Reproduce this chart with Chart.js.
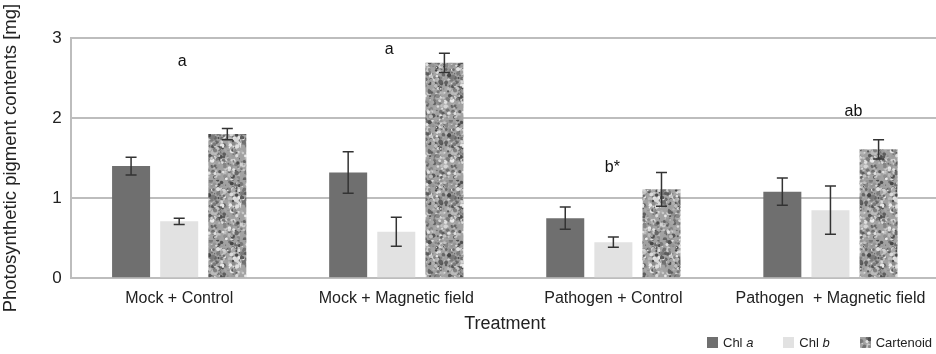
<!DOCTYPE html>
<html>
<head>
<meta charset="utf-8">
<script src="https://cdn.jsdelivr.net/npm/chart.js@4/dist/chart.umd.min.js"></script>
<style>
  body { margin: 0; background: #fff; overflow: hidden; }
  #wrap { position: relative; width: 940px; height: 354px; }
  #legend { position: absolute; top: 335px; left: 707px; font: 13px "Liberation Sans", Arial, sans-serif; color: #222; white-space: nowrap; }
  #legend span.item { display: inline-block; margin-right: 30px; }
  #legend span.box { display: inline-block; width: 11px; height: 11px; margin-right: 5px; vertical-align: -1px; }
</style>
</head>
<body>
<div id="wrap">
  <canvas id="chart" width="940" height="354"></canvas>
  <div id="legend"></div>
</div>
<script>
const treatments = ["Mock + Control", "Mock + Magnetic field", "Pathogen + Control", "Pathogen  + Magnetic field"];
const chlA = [1.40, 1.32, 0.75, 1.08];
const chlAErr = [0.11, 0.26, 0.14, 0.17];
const chlB = [0.71, 0.58, 0.45, 0.85];
const chlBErr = [0.04, 0.18, 0.065, 0.30];
const carot = [1.80, 2.69, 1.11, 1.61];
const carotErr = [0.07, 0.12, 0.21, 0.12];
const letters = ["a", "a", "b*", "ab"];
const letterY = [2.71, 2.85, 1.38, 2.08];
const yTicks = [0, 1, 2, 3];

const FONT = "'Liberation Sans', Arial, sans-serif";

// mottled texture for the carotenoid bars
function rand(seed) {
    return function () {
        seed |= 0; seed = seed + 0x6D2B79F5 | 0;
        let t = Math.imul(seed ^ seed >>> 15, 1 | seed);
        t = t + Math.imul(t ^ t >>> 7, 61 | t) ^ t;
        return ((t ^ t >>> 14) >>> 0) / 4294967296;
    };
}
function makeTexture() {
    const r = rand(11);
    const raw = document.createElement("canvas");
    raw.width = 60; raw.height = 60;
    const c = raw.getContext("2d");
    c.fillStyle = "#a2a2a2";
    c.fillRect(0, 0, 60, 60);
    for (let i = 0; i < 600; i++) {
        const g = Math.floor(70 + r() * 165);
        c.fillStyle = "rgb(" + g + "," + g + "," + g + ")";
        c.beginPath();
        c.arc(r() * 60, r() * 60, 0.6 + r() * 1.7, 0, Math.PI * 2);
        c.fill();
    }
    const out = document.createElement("canvas");
    out.width = 60; out.height = 60;
    const o = out.getContext("2d");
    o.filter = "blur(0.6px)";
    o.drawImage(raw, 0, 0);
    return out;
}
const texture = makeTexture();
const ctx = document.getElementById("chart").getContext("2d");
const carotFill = ctx.createPattern(texture, "repeat");

const errors = [chlAErr, chlBErr, carotErr];

const errorBars = {
    id: "errorBars",
    afterDatasetsDraw(chart) {
        const c = chart.ctx;
        const y = chart.scales.y;
        c.save();
        c.strokeStyle = "#333";
        c.lineWidth = 1.5;
        chart.data.datasets.forEach((ds, d) => {
            chart.getDatasetMeta(d).data.forEach((bar, i) => {
                const top = y.getPixelForValue(ds.data[i] + errors[d][i]);
                const bot = y.getPixelForValue(ds.data[i] - errors[d][i]);
                c.beginPath();
                c.moveTo(bar.x, top); c.lineTo(bar.x, bot);
                c.moveTo(bar.x - 5.5, top); c.lineTo(bar.x + 5.5, top);
                c.moveTo(bar.x - 5.5, bot); c.lineTo(bar.x + 5.5, bot);
                c.stroke();
            });
        });
        c.restore();
    }
};

const letterOffsets = [3, -7, -1, 23];
const sigLetters = {
    id: "sigLetters",
    afterDatasetsDraw(chart) {
        const c = chart.ctx;
        const x = chart.scales.x, y = chart.scales.y;
        c.save();
        c.fillStyle = "#111";
        c.font = "16px " + FONT;
        c.textAlign = "center";
        c.textBaseline = "middle";
        letters.forEach((t, i) => {
            c.fillText(t, x.getPixelForValue(i) + letterOffsets[i], y.getPixelForValue(letterY[i]));
        });
        c.restore();
    }
};

const chart = new Chart(ctx, {
    type: "bar",
    data: {
        labels: treatments,
        datasets: [
            { label: "Chl a", data: chlA, backgroundColor: "#6f6f6f" },
            { label: "Chl b", data: chlB, backgroundColor: "#e2e2e2" },
            { label: "Cartenoid", data: carot, backgroundColor: carotFill }
        ]
    },
    options: {
        responsive: false,
        animation: false,
        layout: { padding: { top: 38, right: 1, bottom: 19, left: 0 } },
        datasets: { bar: { categoryPercentage: 0.665, barPercentage: 0.79 } },
        plugins: { legend: { display: false }, tooltip: { enabled: false } },
        scales: {
            x: {
                grid: { display: false, drawTicks: false },
                border: { color: "#bdbdbd", width: 2 },
                ticks: { color: "#222", font: { family: FONT, size: 16 }, padding: 11, maxRotation: 0, autoSkip: false },
                title: { display: true, text: "Treatment", color: "#222", font: { family: FONT, size: 18 }, padding: { top: -6, bottom: 0 } }
            },
            y: {
                min: 0, max: 3,
                afterBuildTicks(axis) { axis.ticks = yTicks.map(v => ({ value: v })); },
                grid: { color: "#bdbdbd", lineWidth: 2, drawTicks: false },
                border: { color: "#bdbdbd", width: 2 },
                ticks: { color: "#222", font: { family: FONT, size: 17 }, padding: 9 },
                title: { display: true, text: "Photosynthetic pigment contents [mg]", color: "#222", font: { family: FONT, size: 18.5 }, padding: { top: 0, bottom: 21 } }
            }
        }
    },
    plugins: [errorBars, sigLetters]
});

// legend built from the datasets
const legend = document.getElementById("legend");
chart.data.datasets.forEach((ds, d) => {
    const item = document.createElement("span");
    item.className = "item";
    const box = document.createElement("span");
    box.className = "box";
    if (d === 2) box.style.background = "url(" + texture.toDataURL() + ")";
    else box.style.background = ds.backgroundColor;
    item.appendChild(box);
    const parts = ds.label.split(" ");
    if (parts.length === 2) {
        item.appendChild(document.createTextNode(parts[0] + " "));
        const it = document.createElement("i");
        it.textContent = parts[1];
        item.appendChild(it);
    } else {
        item.appendChild(document.createTextNode(ds.label));
    }
    legend.appendChild(item);
});
</script>
</body>
</html>
